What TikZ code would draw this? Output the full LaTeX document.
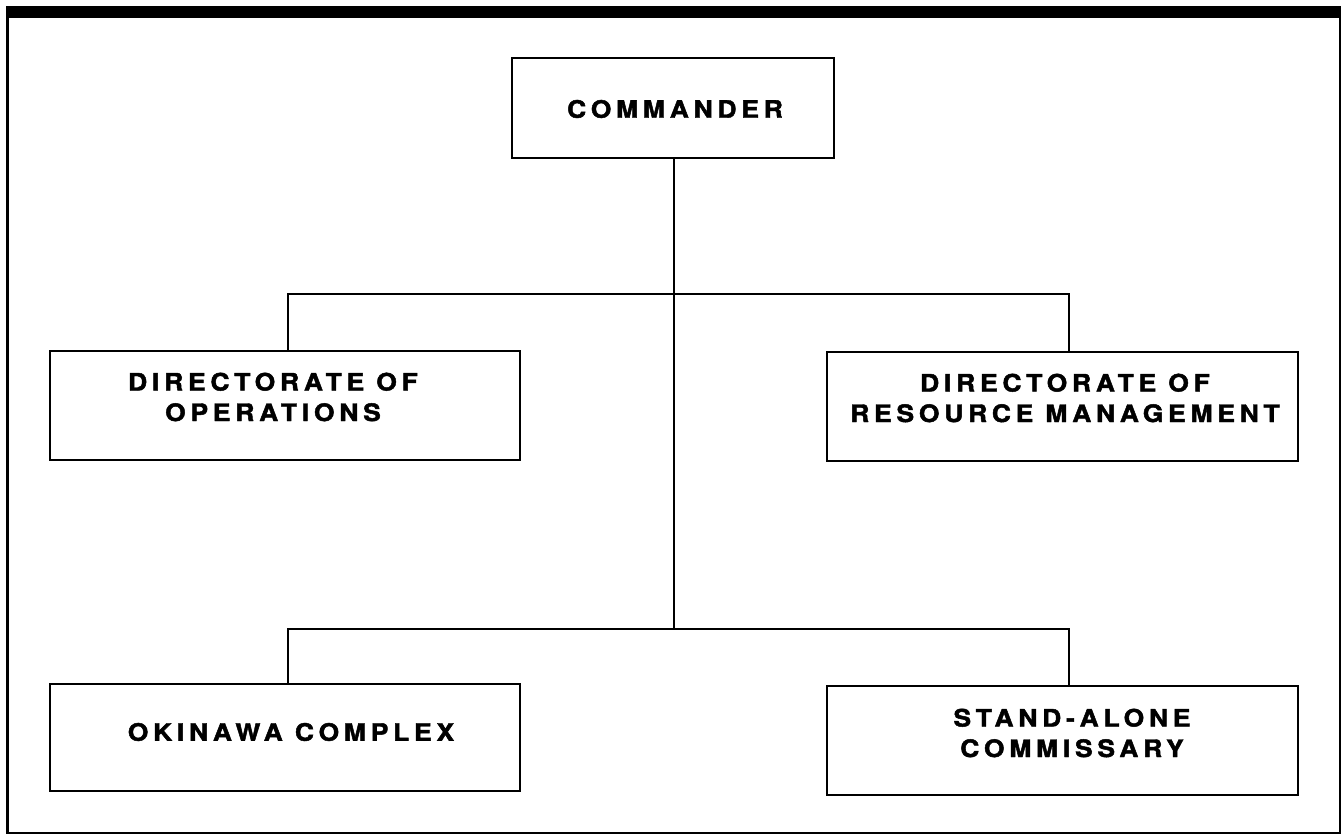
\documentclass[tikz,border=0pt]{standalone}
\usepackage{fontspec}
\setmainfont{TeX Gyre Heros}
\newfontfamily\orgfont[LetterSpace=20,FakeStretch=1.1,FakeBold=2]{TeX Gyre Heros}
\begin{document}
\begin{tikzpicture}[x=1pt,y=-1pt,
  box/.style={draw, line width=1.8pt, rectangle, inner sep=0pt},
  lbl/.style={font=\orgfont\bfseries\fontsize{24}{30.5}\selectfont, align=center, inner sep=0pt},
  conn/.style={line width=1.8pt}]
\useasboundingbox (0,0) rectangle (1341,837);
% frame
\fill (6,6) rectangle (1341,18);
\draw[line width=3pt] (7.5,17) -- (7.5,833);
\draw[line width=2pt] (6,833) -- (1340,833) -- (1340,17);
% boxes
\node[box, minimum width=322pt, minimum height=100pt] (cmd) at (673,108) {};
\node[box, minimum width=470pt, minimum height=109pt] (ops) at (285,405.5) {};
\node[box, minimum width=471pt, minimum height=109pt] (res) at (1062.5,406.5) {};
\node[box, minimum width=470pt, minimum height=107pt] (oki) at (285,737.5) {};
\node[box, minimum width=471pt, minimum height=109pt] (sa) at (1062.5,740.5) {};
% labels
\node[lbl] (cmdT) at (675,109) {COMMANDER};
\node[lbl] (opsT) at (273,397) {DIRECTORATE OF\\OPERATIONS};
\node[lbl] (resT) at (1065,398) {DIRECTORATE OF\\RESOURCE MANAGEMENT};
\node[lbl] (okiT) at (291,732) {OKINAWA COMPLEX};
\node[lbl] (saT) at (1072,733) {STAND-ALONE\\COMMISSARY};
% connectors
\coordinate (b1L) at (288,294);
\coordinate (b1R) at (1069,294);
\coordinate (b2L) at (288,629);
\coordinate (b2R) at (1069,629);
\coordinate (t1) at (674,294);
\coordinate (t2) at (674,629);
\draw[conn] (cmd.south -| t1) -- (t2);
\draw[conn] (ops.north -| b1L) -- (b1L) -- (b1R) -- (res.north -| b1R);
\draw[conn] (oki.north -| b2L) -- (b2L) -- (b2R) -- (sa.north -| b2R);
\end{tikzpicture}
\end{document}
